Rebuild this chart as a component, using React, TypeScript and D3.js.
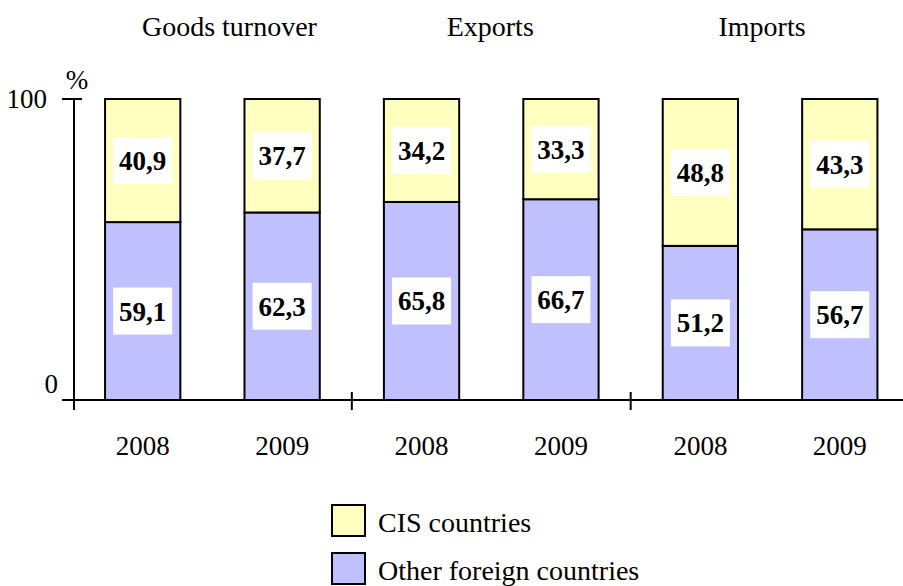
import React from "react";
import * as d3 from "d3";

const groups = ["Goods turnover", "Exports", "Imports"];
const years = ["2008", "2009", "2008", "2009", "2008", "2009"];
const otherForeign = [59.1, 62.3, 65.8, 66.7, 51.2, 56.7];
const cis = [40.9, 37.7, 34.2, 33.3, 48.8, 43.3];
const yTicks = [0, 100];
const seriesNames = ["CIS countries", "Other foreign countries"];

const W = 903;
const H = 586;
const TS = { fontFamily: "Liberation Serif" };
const YELLOW = "#FFFFC0";
const BLUE = "#C0C0FF";
const SW = 2;

const fmt = (v: number) => v.toFixed(1).replace(".", ",");

export default function App() {
  const x = d3
    .scaleBand<number>()
    .domain(d3.range(years.length))
    .range([73, 909.5])
    .paddingInner(0.46)
    .paddingOuter(0.23);
  const y = d3.scaleLinear().domain([0, 100]).range([400, 99]);
  const step = x.step();
  const x0 = 73;
  const bw = x.bandwidth();

  const stackData = years.map((yr, i) => ({ i, other: otherForeign[i], cis: cis[i] }));
  const stack = d3.stack<any>().keys(["other", "cis"])(stackData);
  const colors = [BLUE, YELLOW];

  const groupCenters = [x0 + step * 1 + 17, x0 + step * 3 - 1, x0 + step * 5 - 8];

  return (
    <svg width={W} height={H} style={{ position: "absolute", left: 0, top: 0 }}>
      <rect width={W} height={H} fill="#fff" />
      {groups.map((g, i) => (
        <text key={g} x={groupCenters[i]} y={36} textAnchor="middle" fontSize={28} style={TS}>
          {g}
        </text>
      ))}
      <text x={77} y={89} textAnchor="middle" fontSize={27} style={TS}>%</text>
      {stack.map((layer, li) =>
        layer.map((d, i) => (
          <rect
            key={`${li}-${i}`}
            x={x(i)}
            y={y(d[1])}
            width={bw}
            height={y(d[0]) - y(d[1])}
            fill={colors[li]}
            stroke="#000"
            strokeWidth={SW}
          />
        ))
      )}
      {stack.map((layer, li) =>
        layer.map((d, i) => {
          const cx = (x(i) as number) + bw / 2;
          const cy = (y(d[0]) + y(d[1])) / 2;
          return (
            <g key={`l${li}-${i}`}>
              <rect x={cx - 29.5} y={cy - 23.5} width={59} height={47} fill="#fff" />
              <text x={cx} y={cy + 9.5} textAnchor="middle" fontSize={27} fontWeight="bold" style={TS}>
                {fmt(d[1] - d[0])}
              </text>
            </g>
          );
        })
      )}
      <line x1={74} x2={74} y1={y(100)} y2={410} stroke="#000" strokeWidth={SW} />
      <line x1={62} x2={82} y1={y(100)} y2={y(100)} stroke="#000" strokeWidth={SW} />
      <line x1={62} x2={W} y1={y(0)} y2={y(0)} stroke="#000" strokeWidth={SW} />
      {[2, 4].map((k) => (
        <line key={k} x1={x0 + step * k} x2={x0 + step * k} y1={392} y2={410} stroke="#000" strokeWidth={SW} />
      ))}
      <text x={47} y={y(yTicks[1]) + 9} textAnchor="end" fontSize={27} style={TS}>{yTicks[1]}</text>
      <text x={58} y={393} textAnchor="end" fontSize={27} style={TS}>{yTicks[0]}</text>
      {years.map((yr, i) => (
        <text key={i} x={(x(i) as number) + bw / 2} y={455} textAnchor="middle" fontSize={27} style={TS}>
          {yr}
        </text>
      ))}
      {seriesNames.map((s, i) => (
        <g key={s} transform={`translate(332, ${505 + i * 48})`}>
          <rect x={0} y={0} width={33} height={31} fill={i === 0 ? YELLOW : BLUE} stroke="#000" strokeWidth={SW} />
          <text x={46} y={27} fontSize={28} style={TS}>{s}</text>
        </g>
      ))}
    </svg>
  );
}
